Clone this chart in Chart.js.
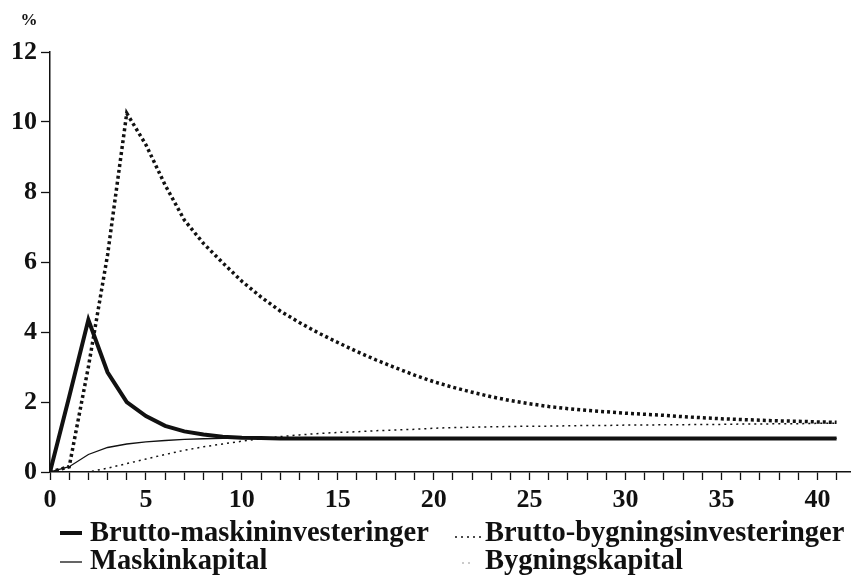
<!DOCTYPE html>
<html>
<head>
<meta charset="utf-8">
<script src="https://cdn.jsdelivr.net/npm/chart.js@4/dist/chart.umd.min.js"></script>
<style>
  body { margin: 0; background: #fff; }
  #wrap { width: 854px; height: 575px; }
</style>
</head>
<body>
<div id="wrap"><canvas id="chart" width="854" height="575"></canvas></div>
<script>
// years after the shock
const years = Array.from({ length: 42 }, (_, i) => i);

// Brutto-maskininvesteringer (thick solid)
const maskinInv = [
  0, 2.15, 4.35, 2.85, 2.0, 1.6, 1.32, 1.16, 1.07, 1.01,
  0.98, 0.97, 0.96, 0.96, 0.96, 0.96, 0.96, 0.96, 0.96, 0.96,
  0.96, 0.96, 0.96, 0.96, 0.96, 0.96, 0.96, 0.96, 0.96, 0.96,
  0.96, 0.96, 0.96, 0.96, 0.96, 0.96, 0.96, 0.96, 0.96, 0.96,
  0.96, 0.96
];

// Maskinkapital (thin solid)
const maskinKap = [
  0, 0.15, 0.5, 0.7, 0.8, 0.86, 0.9, 0.93, 0.95, 0.96,
  0.96, 0.96, 0.96, 0.96, 0.96, 0.96, 0.96, 0.96, 0.96, 0.96,
  0.96, 0.96, 0.96, 0.96, 0.96, 0.96, 0.96, 0.96, 0.96, 0.96,
  0.96, 0.96, 0.96, 0.96, 0.96, 0.96, 0.96, 0.96, 0.96, 0.96,
  0.96, 0.96
];

// Brutto-bygningsinvesteringer (thick dotted)
const byggInv = [
  0, 0.15, 3.0, 6.2, 10.25, 9.35, 8.2, 7.2, 6.53, 5.98,
  5.45, 5.0, 4.6, 4.27, 3.97, 3.7, 3.44, 3.2, 2.98, 2.77,
  2.58, 2.42, 2.28, 2.15, 2.04, 1.95, 1.87, 1.81, 1.76, 1.72,
  1.68, 1.65, 1.62, 1.58, 1.55, 1.52, 1.5, 1.48, 1.46, 1.45,
  1.43, 1.42
];

// Bygningskapital (thin dotted)
const byggKap = [
  0, 0, 0, 0.11, 0.24, 0.37, 0.5, 0.62, 0.72, 0.8,
  0.88, 0.95, 1.01, 1.06, 1.1, 1.13, 1.15, 1.18, 1.2, 1.22,
  1.25, 1.27, 1.28, 1.29, 1.3, 1.31, 1.31, 1.32, 1.33, 1.33,
  1.34, 1.34, 1.35, 1.35, 1.36, 1.36, 1.37, 1.37, 1.38, 1.38,
  1.39, 1.39
];

const yTicks = [0, 2, 4, 6, 8, 10, 12];

const INK = '#111';
const FONT = 'Liberation Serif';

const toPoints = arr => arr.map((v, i) => ({ x: years[i], y: v }));

// legend drawn by hand: two columns, like the printed figure
const legendPlugin = {
  id: 'printLegend',
  afterDraw(chart) {
    const ctx = chart.ctx;
    ctx.save();
    ctx.fillStyle = INK;
    ctx.font = 'bold 17px ' + FONT;
    ctx.textAlign = 'center';
    ctx.textBaseline = 'middle';
    ctx.fillText('%', 29, 21);

    const items = [
      { ds: 0, x: 60, y: 533, textY: 533, len: 22, sampleW: 4, dash: [], color: INK },
      { ds: 2, x: 455, y: 537, textY: 533, len: 26, sampleW: 1.5, dash: [2, 4], color: INK },
      { ds: 1, x: 60, y: 562, textY: 561, len: 22, sampleW: 1.3, dash: [], color: INK },
      { ds: 3, x: 462, y: 563, textY: 561, len: 12, sampleW: 1.3, dash: [2, 4], color: '#bbb' }
    ];
    ctx.font = 'bold 28.5px ' + FONT;
    ctx.textAlign = 'left';
    items.forEach(it => {
      ctx.beginPath();
      ctx.setLineDash(it.dash);
      ctx.lineWidth = it.sampleW;
      ctx.strokeStyle = it.color;
      ctx.moveTo(it.x, it.y);
      ctx.lineTo(it.x + it.len, it.y);
      ctx.stroke();
      ctx.setLineDash([]);
      const textX = it.x < 300 ? 90 : 485;
      ctx.fillText(chart.data.datasets[it.ds].label, textX, it.textY + 1);
    });
    ctx.restore();
  }
};

new Chart(document.getElementById('chart'), {
  type: 'line',
  data: {
    datasets: [
      {
        label: 'Brutto-maskininvesteringer',
        data: toPoints(maskinInv),
        borderColor: INK, borderWidth: 4, borderJoinStyle: 'miter'
      },
      {
        label: 'Maskinkapital',
        data: toPoints(maskinKap),
        borderColor: INK, borderWidth: 1.3
      },
      {
        label: 'Brutto-bygningsinvesteringer',
        data: toPoints(byggInv),
        borderColor: INK, borderWidth: 3.5, borderDash: [3, 3]
      },
      {
        label: 'Bygningskapital',
        data: toPoints(byggKap),
        borderColor: INK, borderWidth: 1.5, borderDash: [2, 4]
      }
    ]
  },
  options: {
    responsive: false,
    animation: false,
    events: [],
    layout: { padding: { top: 52, right: 4, left: 0, bottom: 0 } },
    elements: { point: { radius: 0 }, line: { tension: 0, fill: false } },
    plugins: { legend: { display: false }, tooltip: { enabled: false } },
    scales: {
      x: {
        type: 'linear',
        min: 0,
        max: 41.7,
        afterBuildTicks: s => { s.ticks = years.map(v => ({ value: v })); },
        afterFit: s => { s.height = 103; },
        border: { display: true, color: INK, width: 1.5 },
        grid: { drawOnChartArea: false, drawTicks: true, tickLength: 8, tickColor: INK, tickWidth: 1.3 },
        ticks: {
          autoSkip: false, maxRotation: 0, padding: 5,
          color: INK,
          font: { family: FONT, size: 26, weight: 'bold' },
          callback: v => (v % 5 === 0 ? v : '')
        }
      },
      y: {
        min: 0,
        max: 12,
        afterBuildTicks: s => { s.ticks = yTicks.map(v => ({ value: v })); },
        afterFit: s => { s.width = 50; },
        border: { display: true, color: INK, width: 1.5 },
        grid: { drawOnChartArea: false, drawTicks: true, tickLength: 9, tickColor: INK, tickWidth: 1.3 },
        ticks: {
          padding: 4,
          color: INK,
          font: { family: FONT, size: 26, weight: 'bold' }
        }
      }
    }
  },
  plugins: [legendPlugin]
});
</script>
</body>
</html>
